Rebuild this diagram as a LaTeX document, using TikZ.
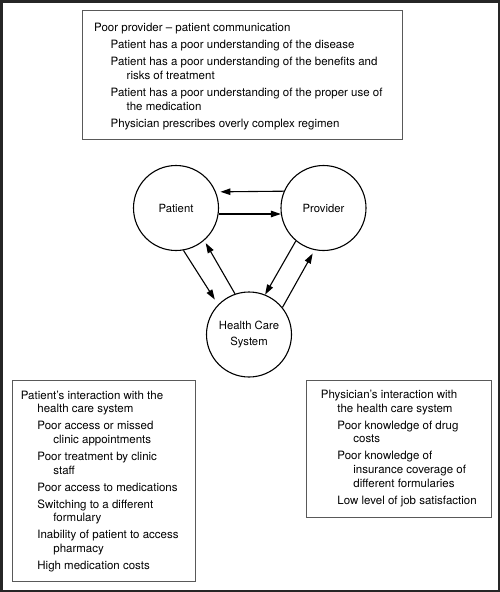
\documentclass[tikz,border=0pt]{standalone}
\usepackage{fontspec}
\setmainfont{TeX Gyre Heros}
\usetikzlibrary{arrows.meta}
\newcommand\hdpar{\par\leftskip=0pt\hangindent=16.5pt\hangafter=1\noindent}
\newcommand\itpar{\par\leftskip=16.5pt\hangindent=16pt\hangafter=1\noindent}
\newcommand\brk{\unskip\nobreak\hfil\break}
\newcommand\boxtext[2]{\parbox[t]{#1}{\raggedright\fontsize{11.5}{13.75}\selectfont\setlength{\parskip}{3.2pt}#2}}
\begin{document}
\begin{tikzpicture}[x=1pt,y=-1pt,
  frame/.style={draw=black!65, line width=0.9pt, rectangle, inner sep=0pt, anchor=north west},
  txt/.style={inner sep=0pt, anchor=base west},
  circ/.style={circle, draw, line width=1.1pt, minimum size=85pt, inner sep=0pt, align=center, font=\fontsize{11.3}{16}\selectfont},
  arr/.style={line width=1.1pt, -{Triangle[length=10pt,width=6.5pt]}}]
\useasboundingbox (0,0) rectangle (500,592);
\draw[line width=2.5pt, black!85] (1.25,1.25) rectangle (498.75,590.75);

% boxes
\node[frame, minimum width=320pt, minimum height=129pt] (topframe) at (82,10) {};
\node[txt] (toptext) at (94,31.7) {\boxtext{300pt}{%
\hdpar Poor provider -- patient communication
\itpar Patient has a poor understanding of the disease
\itpar Patient has a poor understanding of the benefits and\brk risks of treatment
\itpar Patient has a poor understanding of the proper use of\brk the medication
\itpar Physician prescribes overly complex regimen}};

\node[frame, minimum width=183pt, minimum height=200.7pt] (leftframe) at (12,380) {};
\node[txt] (lefttext) at (20.7,399) {\boxtext{180pt}{%
\hdpar Patient's interaction with the\brk health care system
\itpar Poor access or missed\brk clinic appointments
\itpar Poor treatment by clinic\brk staff
\itpar Poor access to medications
\itpar Switching to a different\brk formulary
\itpar Inability of patient to access\brk pharmacy
\itpar High medication costs}};

\node[frame, minimum width=184.7pt, minimum height=137pt] (rightframe) at (306,380) {};
\node[txt] (righttext) at (320.7,398.3) {\boxtext{180pt}{%
\hdpar Physician's interaction with\brk the health care system
\itpar Poor knowledge of drug\brk costs
\itpar Poor knowledge of\brk insurance coverage of\brk different formularies
\itpar Low level of job satisfaction}};

% circles
\node[circ] (pat) at (176,208) {Patient};
\node[circ] (prov) at (323.5,208) {Provider};
\node[circ] (hcs) at (249,334.5) {Health Care\\System};

% arrows
\draw[arr, shorten >=4.5pt] (prov.157.9) -- (pat.22.1);
\draw[arr] (pat.-8.1) -- (prov.188.1);
\draw[arr, shorten >=6pt] (pat.-80.5) -- (hcs.136.2);
\draw[arr, shorten >=3pt] (hcs.109.5) -- (pat.-49.7);
\draw[arr] (prov.230.4) -- (hcs.68);
\draw[arr, shorten >=3.9pt] (hcs.39) -- (prov.258.3);
\end{tikzpicture}
\end{document}
